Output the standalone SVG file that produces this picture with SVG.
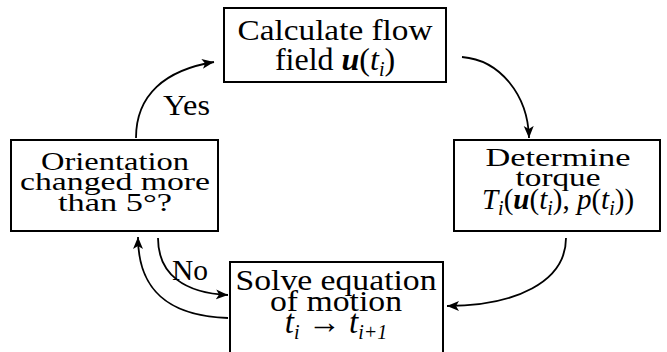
<svg xmlns="http://www.w3.org/2000/svg" width="667" height="352" viewBox="0 0 667 352">
<style>
.box{fill:#fff;stroke:#000;stroke-width:2}
text{fill:#000;font-family:'Liberation Serif','DejaVu Serif',serif}
.t{text-anchor:middle}
.big{font-size:30px}
.med{font-size:26px}
.it{font-style:italic}
.bi{font-style:italic;font-weight:bold}
.sub{font-style:italic;font-size:20px}
.c{fill:none;stroke:#000;stroke-width:1.8;marker-end:url(#ah)}
</style>
<defs>
<marker id="ah" markerUnits="userSpaceOnUse" markerWidth="14" markerHeight="12" refX="12" refY="5" orient="auto">
<path d="M0,0 L12,5 L0,10 L3,5 Z" fill="#000"/>
</marker>
</defs>
<g id="connectors">
<path class="c" d="M 462 57 C 500 60, 528 95, 529 138"/>
<path class="c" d="M 566 238 C 566 282, 515 306, 447 306"/>
<path class="c" d="M 158 238 C 158 275, 185 293, 228 295"/>
<path class="c" d="M 228 318 C 168 316, 138 290, 138 237"/>
<path class="c" d="M 136 138 C 136 95, 165 70, 214 62"/>
<text class="big" x="163" y="115" textLength="47" lengthAdjust="spacingAndGlyphs">Yes</text>
<text class="big" x="172" y="280" textLength="36" lengthAdjust="spacingAndGlyphs">No</text>
</g>
<g id="calc">
<rect class="box" x="224" y="8" width="222" height="74"/>
<text class="t big" x="335" y="40" textLength="195" lengthAdjust="spacingAndGlyphs">Calculate flow</text>
<text class="t" x="335" y="70" font-size="32">field <tspan class="bi">u</tspan>(<tspan class="it">t</tspan><tspan class="sub" dy="6">i</tspan><tspan dy="-6">)</tspan></text>
</g>
<g id="torque">
<rect class="box" x="454" y="140" width="206" height="91"/>
<text class="t med" x="558" y="166" textLength="145" lengthAdjust="spacingAndGlyphs">Determine</text>
<text class="t med" x="558" y="186" textLength="85" lengthAdjust="spacingAndGlyphs">torque</text>
<text class="t" x="558" y="209" font-size="29"><tspan class="it">T</tspan><tspan class="sub" dy="6">i</tspan><tspan dy="-6">(</tspan><tspan class="bi">u</tspan>(<tspan class="it">t</tspan><tspan class="sub" dy="6">i</tspan><tspan dy="-6">), </tspan><tspan class="it">p</tspan>(<tspan class="it">t</tspan><tspan class="sub" dy="6">i</tspan><tspan dy="-6">))</tspan></text>
</g>
<g id="orient">
<rect class="box" x="11" y="140" width="207" height="91"/>
<text class="t med" x="115" y="170" textLength="148" lengthAdjust="spacingAndGlyphs">Orientation</text>
<text class="t med" x="115" y="190" textLength="190" lengthAdjust="spacingAndGlyphs">changed more</text>
<text class="t med" x="115" y="211" textLength="114" lengthAdjust="spacingAndGlyphs">than 5°?</text>
</g>
<g id="solve">
<rect class="box" x="230" y="262" width="213" height="95"/>
<text class="t big" x="336" y="290" textLength="201" lengthAdjust="spacingAndGlyphs">Solve equation</text>
<text class="t big" x="336" y="311" textLength="132" lengthAdjust="spacingAndGlyphs">of motion</text>
<text class="t" x="336" y="333" font-size="33"><tspan class="it">t</tspan><tspan class="sub" dy="6">i</tspan><tspan dy="-6"> → </tspan><tspan class="it">t</tspan><tspan class="sub" dy="6">i+1</tspan></text>
</g>
</svg>
